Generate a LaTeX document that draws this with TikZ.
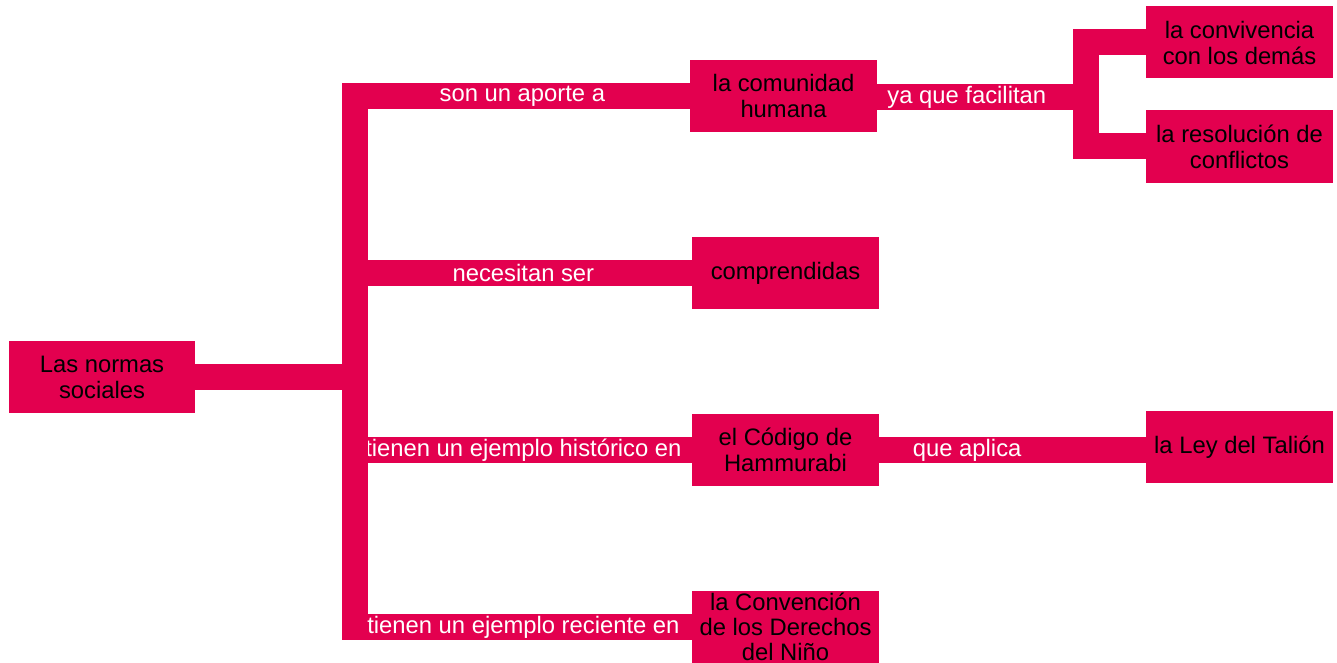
\documentclass[tikz,border=0pt]{standalone}
\usepackage{fontspec}
\setmainfont{Liberation Sans}
\definecolor{mapred}{HTML}{E3004F}

\begin{document}
\begin{tikzpicture}[x=1pt, y=-1pt,
		box/.style={fill=mapred, text=black, minimum width=187pt, minimum height=72pt, inner sep=0pt, align=center, font=\fontsize{23.8}{26}\selectfont},
		link/.style={draw=mapred, line width=26pt},
		lbl/.style={text=white, inner sep=0pt, font=\fontsize{23.8}{26}\selectfont}]
			%%%%% START %%%%%
			
			\useasboundingbox (0, 0) rectangle (1337, 663);
			
			\node[box, minimum width=186pt] (normas) at (102, 377) {Las normas\\sociales};
			
			\node[box] (comunidad) at (783.5, 96) {la comunidad\\humana};
			\node[box] (comprendidas) at (785.5, 273) {comprendidas};
			\node[box] (codigo) at (785.5, 450) {el C\'odigo de\\Hammurabi};
			\node[box, font=\fontsize{23.8}{25}\selectfont] (convencion) at (785.5, 627) {la Convenci\'on\\de los Derechos\\del Ni\~no};
			
			\node[box] (convivencia) at (1239.5, 42.5) {la convivencia\\con los dem\'as};
			\node[box] (resolucion) at (1239.5, 146.5) {la resoluci\'on de\\conflictos};
			\node[box] (talion) at (1239.5, 447) {la Ley del Tali\'on};
			
			\coordinate (trunk) at (355, 377);
			\coordinate (fork) at (1085.5, 97);
			
			\draw[link] (normas.east) -- (trunk);
			\draw[link] (trunk) |- node[lbl, pos=0.75] {son un aporte a} (comunidad.west);
			\draw[link] (trunk) |- node[lbl, pos=0.75] {necesitan ser} (comprendidas.west);
			\draw[link] (trunk) |- node[lbl, pos=0.75] {tienen un ejemplo hist\'orico en} (codigo.west);
			\draw[link] (trunk) |- node[lbl, pos=0.75] {tienen un ejemplo reciente en} (convencion.west);
			
			\draw[link] (comunidad.east |- fork) -- node[lbl, pos=0.43] {ya que facilitan} (fork);
			\draw[link] (convivencia.west) -| (fork) |- (resolucion.west);
			
			\draw[link] (codigo.east) -- node[lbl, pos=0.33] {que aplica} (codigo.east -| talion.west);
			
			%%%%% END %%%%%
\end{tikzpicture}
\end{document}
